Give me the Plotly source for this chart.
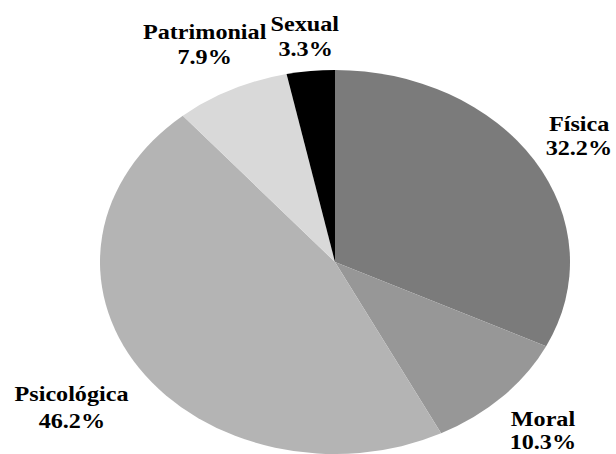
import plotly.graph_objects as go

categories = ["Física", "Moral", "Psicológica", "Patrimonial", "Sexual"]
values = [32.2, 10.3, 46.2, 7.9, 3.3]
colors = ["#7b7b7b", "#979797", "#b4b4b4", "#d9d9d9", "#000000"]

# label anchor positions (pixel centres of each label line) - text placement only
label_pos = {
    "Física": (579, 124, 148),
    "Moral": (543, 419, 442),
    "Psicológica": (72, 394, 421),
    "Patrimonial": (204, 32, 57),
    "Sexual": (305, 24, 49),
}

W, H = 616, 454
cx, cy, r = 335, 262, 192

fig = go.Figure(go.Pie(
    labels=categories,
    values=values,
    sort=False,
    direction="clockwise",
    rotation=0,
    marker=dict(colors=colors, line=dict(width=0)),
    textinfo="none",
    hoverinfo="label+percent",
    showlegend=False,
    domain=dict(x=[(cx - r) / W, (cx + r) / W], y=[(H - cy - r) / H, (H - cy + r) / H]),
))

font = dict(family="'Liberation Serif', 'Times New Roman', serif", size=21, color="#000000")
annotations = []
for cat, val in zip(categories, values):
    x, y1, y2 = label_pos[cat]
    annotations.append(dict(text=f"<b>{cat}</b>", x=x / W, y=1 - y1 / H, xref="paper", yref="paper",
                            showarrow=False, xanchor="center", yanchor="middle", font=font))
    annotations.append(dict(text=f"<b>{val:.1f}%</b>", x=x / W, y=1 - y2 / H, xref="paper", yref="paper",
                            showarrow=False, xanchor="center", yanchor="middle", font=font))

fig.update_layout(
    width=W, height=H,
    margin=dict(l=0, r=0, t=0, b=0),
    paper_bgcolor="white", plot_bgcolor="white",
    annotations=annotations,
)

post = """
var gd = document.getElementById('{plot_id}');
function stretch(){
  var sx = 1.224;
  gd.querySelectorAll('.pielayer .trace').forEach(function(t){
    var b = t.getBBox(); var x0 = b.x + b.width/2, y0 = b.y + b.height/2;
    t.setAttribute('transform','translate('+x0+','+y0+') scale('+sx+',1) translate('+(-x0)+','+(-y0)+')');
  });
  gd.querySelectorAll('g.annotation').forEach(function(t){
    var b = t.getBBox(); var x0 = b.x + b.width/2;
    t.setAttribute('transform','translate('+x0+',0) scale(1.15,1) translate('+(-x0)+',0)');
  });
}
stretch();
gd.on('plotly_afterplot', stretch);
"""

fig.write_html("out.html", post_script=post)
